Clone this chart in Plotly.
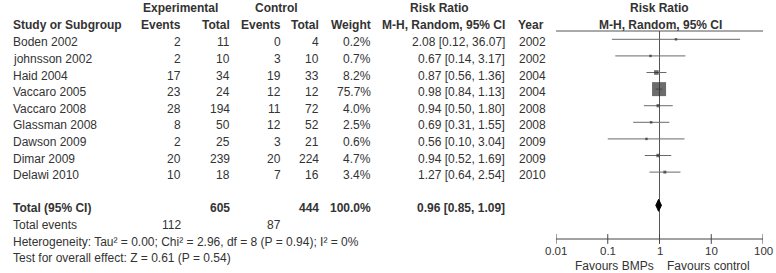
import math
import plotly.graph_objects as go

# ---------------- data ----------------
studies = ["Boden 2002", "johnsson 2002", "Haid 2004", "Vaccaro 2005", "Vaccaro 2008",
           "Glassman 2008", "Dawson 2009", "Dimar 2009", "Delawi 2010"]
exp_events = [2, 2, 17, 23, 28, 8, 2, 20, 10]
exp_total = [11, 10, 34, 24, 194, 50, 25, 239, 18]
ctl_events = [0, 3, 19, 12, 11, 12, 3, 20, 7]
ctl_total = [4, 10, 33, 12, 72, 52, 21, 224, 16]
weights = [0.2, 0.7, 8.2, 75.7, 4.0, 2.5, 0.6, 4.7, 3.4]
rr = [2.08, 0.67, 0.87, 0.98, 0.94, 0.69, 0.56, 0.94, 1.27]
rr_lo = [0.12, 0.14, 0.56, 0.84, 0.50, 0.31, 0.10, 0.52, 0.64]
rr_hi = [36.07, 3.17, 1.36, 1.13, 1.80, 1.55, 3.04, 1.69, 2.54]
years = [2002, 2002, 2004, 2004, 2008, 2008, 2009, 2009, 2010]

total_exp = 605
total_ctl = 444
total_weight = 100.0
total_rr, total_lo, total_hi = 0.96, 0.85, 1.09
total_events_exp = 112
total_events_ctl = 87
heterogeneity_text = "Heterogeneity: Tau² = 0.00; Chi² = 2.96, df = 8 (P = 0.94); I² = 0%"
overall_text = "Test for overall effect: Z = 0.61 (P = 0.54)"

tick_vals = [0.01, 0.1, 1, 10, 100]
tick_labels = ["0.01", "0.1", "1", "10", "100"]
left_label = "Favours BMPs"
right_label = "Favours control"

# ---------------- layout helpers ----------------
W, H = 776, 273
TXT = "#333333"
FONT = "Liberation Sans, Arial, sans-serif"
REG = 12
BOLD = 12

ROW0 = 42.3   # pixel of first study row
ROWH = 16.6


def px(x):
    return x / W


def row_of(pix):
    return (pix - ROW0) / ROWH


ann = []


def txt(x, row, s, anchor="right", bold=False, size=None):
    ann.append(dict(
        x=px(x), y=row, xref="paper", yref="y", text=("<b>%s</b>" % s) if bold else s,
        showarrow=False, xanchor=anchor, yanchor="middle",
        font=dict(family=FONT, size=size or (BOLD if bold else REG), color=TXT),
        borderpad=0,
    ))


H1, H2 = row_of(8.0), row_of(25.3)
# header rows
txt(180, H1, "Experimental", "center", True)
txt(276, H1, "Control", "center", True)
txt(439, H1, "Risk Ratio", "center", True)
txt(659, H1, "Risk Ratio", "center", True)
txt(12, H2, "Study or Subgroup", "left", True)
txt(182, H2, "Events", "right", True)
txt(231, H2, "Total", "right", True)
txt(282, H2, "Events", "right", True)
txt(320, H2, "Total", "right", True)
txt(372, H2, "Weight", "right", True)
txt(506, H2, "M-H, Random, 95% CI", "right", True)
txt(517, H2, "Year", "left", True)
txt(660, H2, "M-H, Random, 95% CI", "center", True)

for i, s in enumerate(studies):
    txt(12, i, s, "left")
    txt(182, i, str(exp_events[i]))
    txt(231, i, str(exp_total[i]))
    txt(282, i, str(ctl_events[i]))
    txt(320, i, str(ctl_total[i]))
    txt(372, i, "%.1f%%" % weights[i])
    txt(506, i, "%.2f [%.2f, %.2f]" % (rr[i], rr_lo[i], rr_hi[i]))
    txt(518, i, str(years[i]), "left")

n = len(studies)
r_total = n + 1
txt(12, r_total, "Total (95% CI)", "left", True)
txt(231, r_total, str(total_exp), "right", True)
txt(320, r_total, str(total_ctl), "right", True)
txt(372, r_total, "%.1f%%" % total_weight, "right", True)
txt(506, r_total, "%.2f [%.2f, %.2f]" % (total_rr, total_lo, total_hi), "right", True)
txt(12, r_total + 1, "Total events", "left")
txt(182, r_total + 1, str(total_events_exp))
txt(282, r_total + 1, str(total_events_ctl))
txt(12, r_total + 2, heterogeneity_text, "left")
txt(12, r_total + 3, overall_text, "left")

# forest axis rows
AX_ROW = row_of(239)
TICKLAB_ROW = row_of(250.5)
FAV_ROW = row_of(266)
HDR_LINE = row_of(31)
OFF = -0.18  # marks sit slightly above text centre

for v, lab in zip(tick_vals, tick_labels):
    ann.append(dict(x=math.log10(v), y=TICKLAB_ROW, xref="x", yref="y", text=lab, showarrow=False,
                    xanchor="center", yanchor="middle", borderpad=0,
                    font=dict(family=FONT, size=11.5, color=TXT)))
ann.append(dict(x=math.log10(1), y=FAV_ROW, xref="x", yref="y", text=left_label, showarrow=False,
                xanchor="right", yanchor="middle", xshift=-5, borderpad=0,
                font=dict(family=FONT, size=12, color=TXT)))
ann.append(dict(x=math.log10(1), y=FAV_ROW, xref="x", yref="y", text=right_label, showarrow=False,
                xanchor="left", yanchor="middle", xshift=6, borderpad=0,
                font=dict(family=FONT, size=12, color=TXT)))

fig = go.Figure()

# header underline
fig.add_trace(go.Scatter(x=[0.001, 1000], y=[HDR_LINE, HDR_LINE], mode="lines", xaxis="x2",
                         line=dict(color="#555555", width=1), hoverinfo="skip", showlegend=False))

# line of no effect
fig.add_trace(go.Scatter(x=[1, 1], y=[HDR_LINE, AX_ROW], mode="lines",
                         line=dict(color="#555555", width=1), hoverinfo="skip", showlegend=False))

# CI lines
cx, cy = [], []
for i in range(n):
    cx += [rr_lo[i], rr_hi[i], None]
    cy += [i + OFF, i + OFF, None]
fig.add_trace(go.Scatter(x=cx, y=cy, mode="lines", line=dict(color="#6a6a6a", width=1),
                         hoverinfo="skip", showlegend=False))

# squares
max_w = max(weights)
sizes = [max(2.5, 14.0 * (w / max_w) ** 0.5) for w in weights]
fig.add_trace(go.Scatter(x=rr, y=[i + OFF for i in range(n)], mode="markers",
                         marker=dict(symbol="square", size=sizes, color="#2e2e2e",
                                     line=dict(width=0)),
                         hoverinfo="skip", showlegend=False))

# diamond
dy = 0.36
fig.add_trace(go.Scatter(x=[total_lo, total_rr, total_hi, total_rr, total_lo],
                         y=[r_total + OFF, r_total + OFF - dy, r_total + OFF, r_total + OFF + dy, r_total + OFF],
                         mode="lines", fill="toself", fillcolor="#000000",
                         line=dict(color="#000000", width=1),
                         hoverinfo="skip", showlegend=False))

# axis line and crossing ticks
fig.add_trace(go.Scatter(x=[tick_vals[0], tick_vals[-1]], y=[AX_ROW, AX_ROW], mode="lines",
                         line=dict(color="#444444", width=1), hoverinfo="skip", showlegend=False))
fig.add_trace(go.Scatter(x=tick_vals, y=[AX_ROW] * len(tick_vals), mode="markers",
                         marker=dict(symbol="line-ns", size=7,
                                     line=dict(color="#444444", width=1)),
                         hoverinfo="skip", showlegend=False))

y_top = row_of(0)
y_bot = row_of(H)

fig.update_layout(
    width=W, height=H,
    margin=dict(l=0, r=0, t=0, b=0),
    paper_bgcolor="white", plot_bgcolor="white",
    xaxis=dict(type="log", range=[-2, 2], domain=[556 / W, 763 / W], visible=False),
    xaxis2=dict(type="log", range=[-3, 3], domain=[0, 1], visible=False, anchor="y", overlaying="x"),
    yaxis=dict(range=[y_bot, y_top], visible=False),
    annotations=ann, showlegend=False,
)

fig.write_html("out.html",
               config={"displayModeBar": False, "staticPlot": True},
               post_script="document.body.style.margin='0';document.body.style.overflow='hidden';")
